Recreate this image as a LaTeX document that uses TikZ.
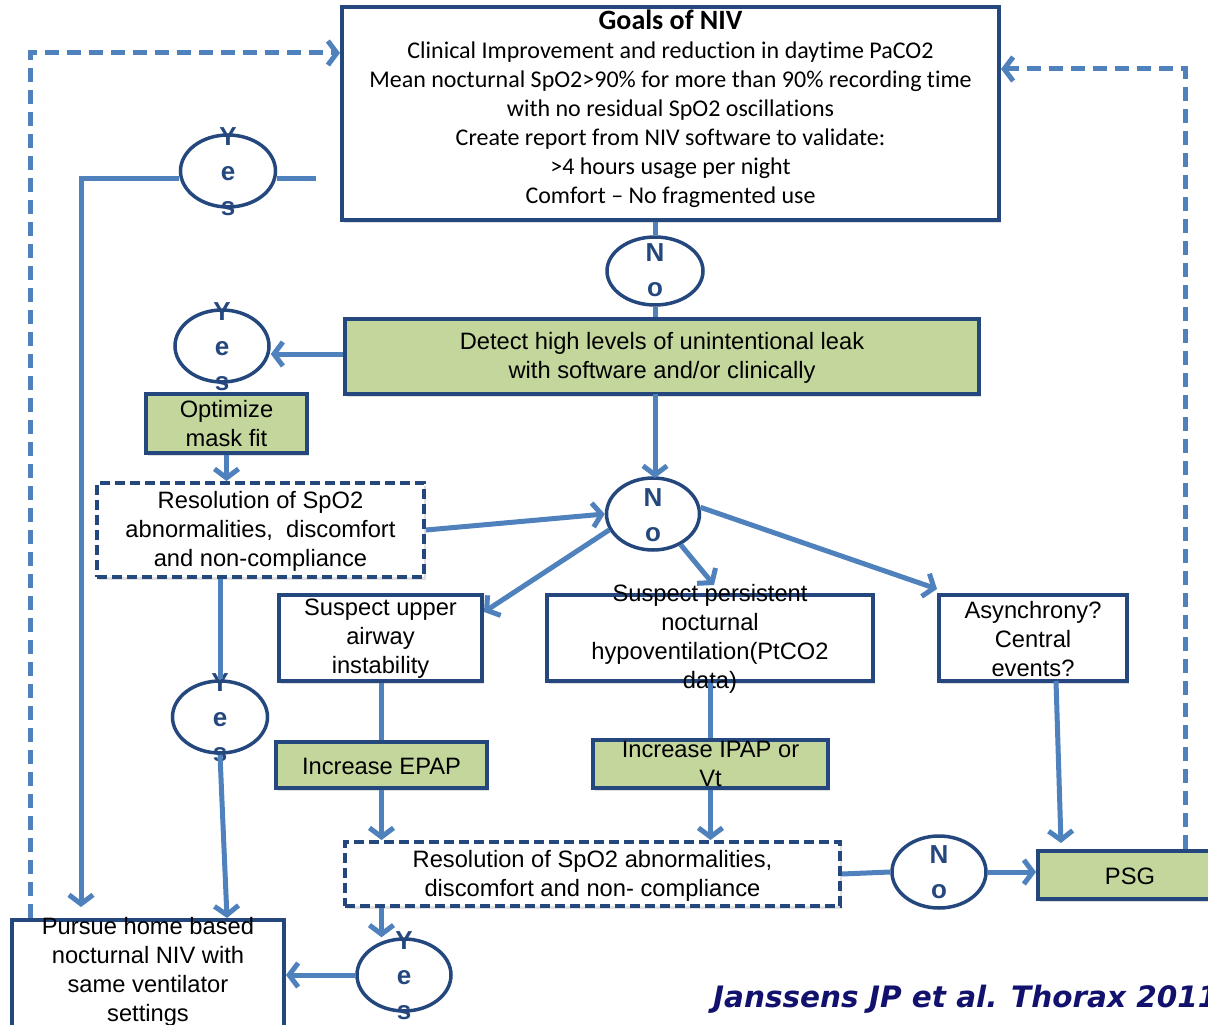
\documentclass[tikz,border=0pt]{standalone}
\usepackage{fontspec}
\setmainfont{Liberation Sans}
\newfontfamily\calib[Ligatures=NoCommon]{Carlito}
\newfontfamily\citefont{DejaVu Sans}
\usetikzlibrary{arrows.meta,shadows,shapes.geometric}
\definecolor{lnblue}{RGB}{79,129,189}
\definecolor{bdblue}{RGB}{36,72,125}
\definecolor{grn}{RGB}{195,214,155}
\definecolor{navy}{RGB}{18,18,110}
\begin{document}
\begin{tikzpicture}[x=1pt,y=-1pt,
  box/.style={draw=bdblue, line width=4pt, fill=white, inner sep=0pt, rectangle,
    drop shadow={shadow xshift=2pt,shadow yshift=-2.5pt,opacity=0.25}},
  gbox/.style={box, fill=grn},
  dbox/.style={box, dash pattern=on 10pt off 5pt},
  oval/.style={draw=bdblue, line width=3.5pt, fill=white, ellipse, inner sep=0pt},
  txt/.style={font=\fontsize{23.7}{29}\selectfont, align=center, inner sep=0pt},
  ctxt/.style={font=\calib\fontsize{24}{29}\selectfont, align=center, inner sep=0pt},
  yn/.style={font=\bfseries\fontsize{26}{35}\selectfont, text=bdblue, align=center, inner sep=0pt},
  conn/.style={draw=lnblue, line width=5pt},
  arr/.style={conn, -{Straight Barb[length=9pt,width=24pt]}},
  dloop/.style={arr, dash pattern=on 14pt off 8pt},
]
\useasboundingbox (0,0) rectangle (1208,1025);
\fill[white] (0,0) rectangle (1208,1025);

% shapes
\node[box, minimum width=657pt, minimum height=213pt] (goals) at (670.5,113.5) {};
\node[oval, minimum width=96pt, minimum height=68pt] (no1) at (655,271) {};
\node[gbox, minimum width=634pt, minimum height=75pt] (detect) at (662,356.5) {};
\node[oval, minimum width=94pt, minimum height=72pt] (yes2) at (222,346) {};
\node[gbox, minimum width=161pt, minimum height=59pt] (optim) at (226.5,423.5) {};
\node[dbox, minimum width=327pt, minimum height=94pt] (res1) at (260.5,530) {};
\node[oval, minimum width=93pt, minimum height=72pt] (no2) at (653,514) {};
\node[box, minimum width=203pt, minimum height=86pt] (upper) at (380.5,638) {};
\node[box, minimum width=326pt, minimum height=86pt] (persist) at (710,638) {};
\node[box, minimum width=188pt, minimum height=86pt] (async) at (1033,638) {};
\node[gbox, minimum width=211pt, minimum height=46pt] (epap) at (381.5,765) {};
\node[gbox, minimum width=235pt, minimum height=48pt] (ipap) at (710.5,764) {};
\node[dbox, minimum width=495pt, minimum height=64pt] (res2) at (592.5,874) {};
\node[oval, minimum width=94pt, minimum height=72pt] (no3) at (939,872) {};
\node[gbox, minimum width=182pt, minimum height=48pt] (psg) at (1129,875) {};
\node[oval, minimum width=95pt, minimum height=72pt] (yes1) at (228,171) {};
\node[oval, minimum width=95pt, minimum height=72pt] (yes3) at (220,717) {};
\node[box, minimum width=272pt, minimum height=110pt] (pursue) at (148,975) {};
\node[oval, minimum width=94pt, minimum height=72pt] (yes4) at (404,975) {};

% texts
\node[ctxt] (goalsT) at (670.5,108.5) {{\bfseries\fontsize{28}{29}\selectfont Goals of NIV}\\Clinical Improvement and reduction in daytime PaCO2\\Mean nocturnal SpO2>90\% for more than 90\% recording time\\with no residual SpO2 oscillations\\Create report from NIV software to validate:\\>4 hours usage per night\\Comfort – No fragmented use};
\node[yn] (no1T) at (655,270) {N\\o};
\node[txt] (detectT) at (662,357.5) {Detect high levels of unintentional leak\\with software and/or clinically};
\node[yn] (yes2T) at (222,347) {Y\\e\\s};
\node[txt] (optimT) at (226.5,424) {Optimize\\mask fit};
\node[txt] (res1T) at (260.5,531) {Resolution of SpO2\\abnormalities,\ \ discomfort\\and non-compliance};
\node[yn] (no2T) at (653,515.5) {N\\o};
\node[txt] (upperT) at (380.5,639) {Suspect upper\\airway\\instability};
\node[txt] (persistT) at (710,638.5) {Suspect persistent\\nocturnal\\hypoventilation(PtCO2\\data)};
\node[txt] (asyncT) at (1033,639) {Asynchrony?\\Central\\events?};
\node[txt] (epapT) at (381.5,766) {Increase EPAP};
\node[txt] (ipapT) at (710.5,764) {Increase IPAP or\\Vt};
\node[txt] (res2T) at (592.5,875.5) {Resolution of SpO2 abnormalities,\\discomfort and non- compliance};
\node[yn] (no3T) at (939,872.5) {N\\o};
\node[txt] (psgT) at (1130,876) {PSG};
\node[yn] (yes1T) at (228,172) {Y\\e\\s};
\node[yn] (yes3T) at (220,718) {Y\\e\\s};
\node[txt] (pursueT) at (148,971.5) {Pursue home based\\nocturnal NIV with\\same ventilator\\settings};
\node[yn] (yes4T) at (404,975.5) {Y\\e\\s};
\node[anchor=base west, inner sep=0pt, text=navy,
  font=\citefont\bfseries\itshape\fontsize{29.5}{30}\selectfont] (cite) at (713,1007) {Janssens JP et al. Thorax 2011};

% coordinates
\coordinate (rloop) at (1185,69);
\coordinate (lloop) at (30,53);
\coordinate (y1r) at (316,178);
\coordinate (y1c) at (81,178);
\coordinate (y1end) at (81,907);
\coordinate (y3end) at (227,918);
\coordinate (upTip) at (484,612);
\coordinate (peTip) at (714,585);
\coordinate (asTip) at (937,589);
\coordinate (asStart) at (1056,681);
\coordinate (psgTip) at (1061,843);

% connectors
\draw[conn] (goals.south -| no1) -- (no1.north);
\draw[conn] (no1.south) -- (no1.south |- detect.north);
\draw[arr] (detect.west |- 0,354) -- (yes2.east |- 0,354);
\draw[arr] (optim.south) -- (optim.south |- res1.north);
\draw[arr] (res1.east) -- (no2.west);
\draw[arr] (655,394) -- (655,478);
\draw[arr] (no2.200) -- (upTip);
\draw[arr] (no2.312) -- (peTip);
\draw[arr] (no2.8) -- (asTip);
\draw[conn] (upper.south -| epap.north) -- (epap.north);
\draw[arr] (epap.south) -- (epap.south |- res2.north);
\draw[conn] (ipap.north |- persist.south) -- (ipap.north);
\draw[arr] (ipap.south) -- (ipap.south |- res2.north);
\draw[conn] (res2.east) -- (no3.west);
\draw[arr] (no3.east) -- (no3.east -| psg.west);
\draw[arr] (asStart) -- (psgTip);
\draw[dloop] (rloop |- psg.north) -- (rloop) -- (rloop -| goals.east);
\draw[dloop] (lloop |- pursue.north) -- (lloop) -- (lloop -| goals.west);
\draw[conn] (y1r) -- (y1r -| yes1.east);
\draw[arr] (y1r -| yes1.west) -- (y1c) -- (y1end);
\draw[conn] (yes3.north |- res1.south) -- (yes3.north);
\draw[arr] (yes3.south) -- (y3end);
\draw[arr] (epap.south |- res2.south) -- (epap.south |- yes4.north);
\draw[arr] (yes4.west) -- (yes4.west -| pursue.east);
\end{tikzpicture}
\end{document}
